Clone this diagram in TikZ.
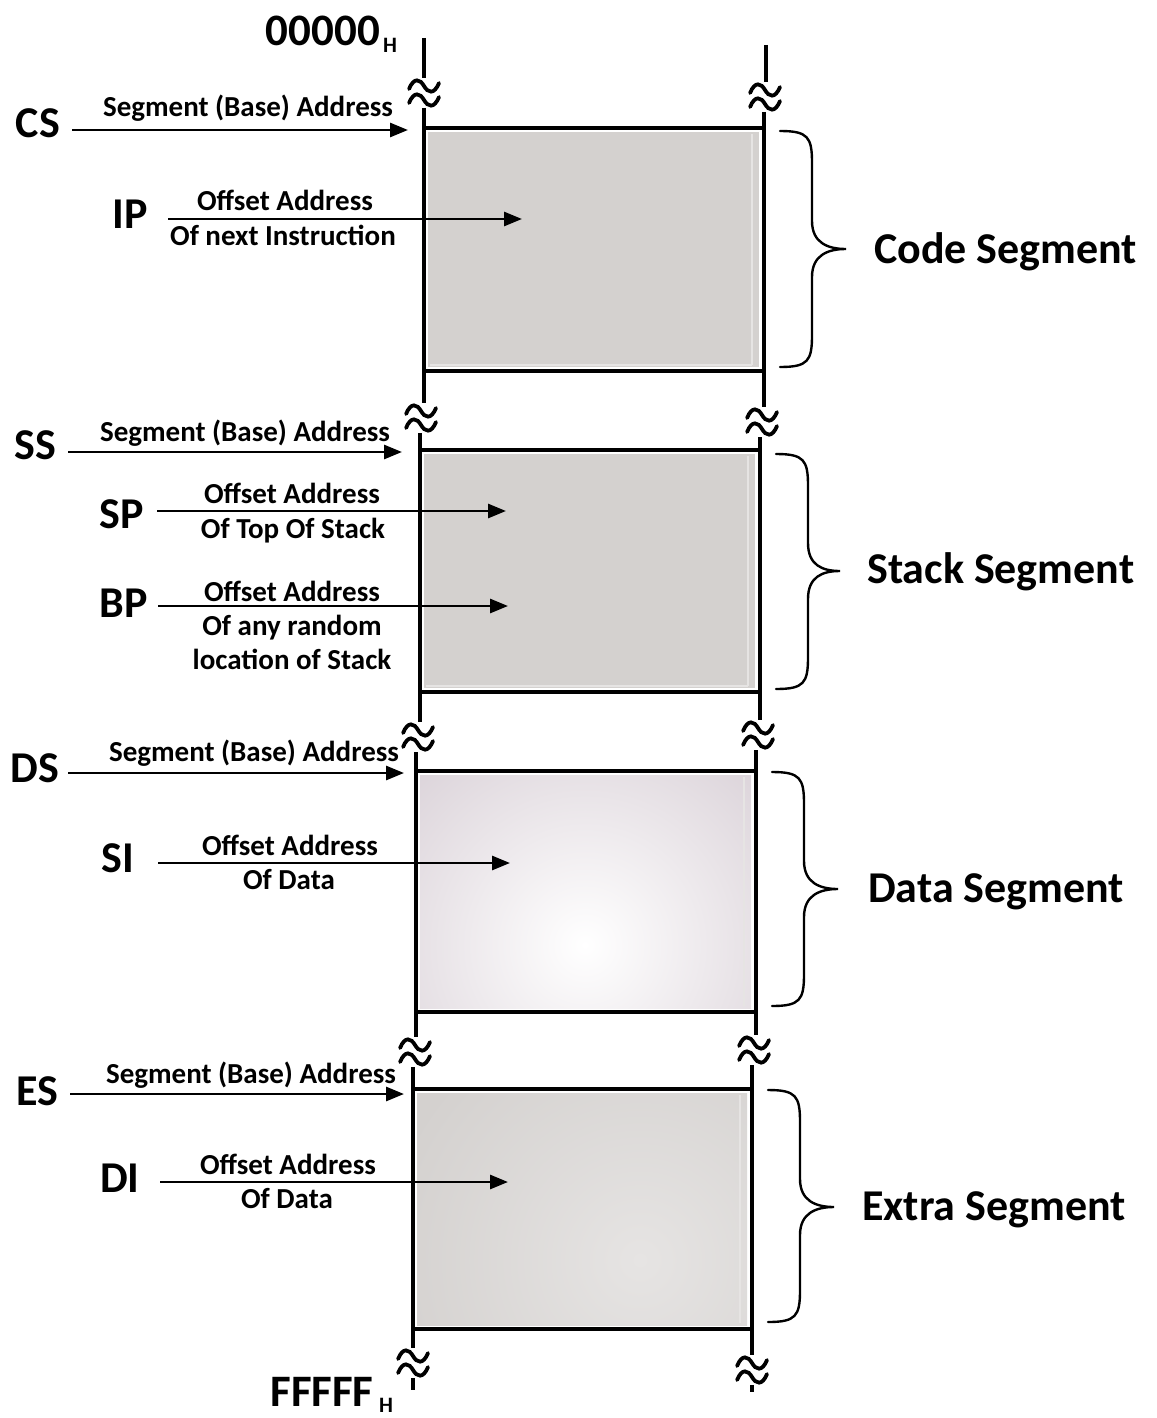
\documentclass[tikz,border=0pt]{standalone}
\usepackage{fontspec}
\setmainfont{Carlito}
\usetikzlibrary{arrows.meta}
\definecolor{boxgray}{RGB}{212,209,207}
\definecolor{boxlight}{RGB}{230,228,227}
\definecolor{datapink}{RGB}{216,207,214}
\tikzset{
  reglbl/.style={font=\bfseries\fontsize{44}{48}\selectfont, inner sep=0pt, anchor=base},
  smalllbl/.style={font=\bfseries\fontsize{29}{34}\selectfont, inner sep=0pt, anchor=base},
  seglbl/.style={font=\bfseries\fontsize{44}{48}\selectfont, inner sep=0pt, anchor=base west},
  addrlbl/.style={font=\bfseries\fontsize{45}{48}\selectfont, inner sep=0pt, anchor=base},
  sublbl/.style={font=\bfseries\fontsize{22}{24}\selectfont, inner sep=0pt, anchor=base},
  ptr/.style={line width=2.8pt, -{Triangle[length=18pt,width=14pt]}},
  memline/.style={line width=4pt},
  wave/.style={line width=3.8pt, line cap=round},
  bracestyle/.style={line width=2.4pt, line cap=round},
}
\newcommand\wavebreak[2]{%
  \draw[wave] ({#1-15},{#2-4}) .. controls ({#1-10},{#2-16}) and ({#1-4},{#2-14}) .. ({#1},{#2-7}) .. controls ({#1+4},{#2}) and ({#1+10},{#2+2}) .. ({#1+15},{#2-10});
  \draw[wave] ({#1-15},{#2+10}) .. controls ({#1-10},{#2-2}) and ({#1-4},{#2}) .. ({#1},{#2+7}) .. controls ({#1+4},{#2+14}) and ({#1+10},{#2+16}) .. ({#1+15},{#2+4});
}
\newcommand\segbrace[5]{% x0, ytop, ybottom, ymid, tipx
  \draw[bracestyle] (#1,#2) .. controls ({#1+28},#2) and ({#1+32},{#2+6}) .. ({#1+32},{#2+32})
    -- ({#1+32},{#4-28}) .. controls ({#1+32},{#4-6}) and ({#5-18},#4) .. (#5,#4)
    .. controls ({#5-18},#4) and ({#1+32},{#4+6}) .. ({#1+32},{#4+28})
    -- ({#1+32},{#3-32}) .. controls ({#1+32},{#3-6}) and ({#1+28},#3) .. (#1,#3);
}
\begin{document}
\begin{tikzpicture}[x=1pt,y=-1pt]
\useasboundingbox (0,0) rectangle (1156,1418);
\fill[white] (0,0) rectangle (1156,1418);

% ---- box fills ----
\fill[boxgray] (428,132) rectangle (759,367);
\draw[boxlight, line width=2pt] (752,134) -- (752,365) (430,365) -- (752,365);
\fill[boxgray] (424,454) rectangle (755,688);
\draw[boxlight, line width=2pt] (748,456) -- (748,686) (426,686) -- (748,686);
\begin{scope}
  \clip (420,775) rectangle (751,1008);
  \shade[inner color=white, outer color=datapink] (585,945) circle (270);
\end{scope}
\draw[boxlight, line width=2pt] (744,777) -- (744,1006);
\begin{scope}
  \clip (417,1093) rectangle (747,1325);
  \fill[boxgray] (417,1093) rectangle (747,1325);
  \shade[inner color=boxlight, outer color=boxgray] (640,1260) circle (260);
\end{scope}
\draw[boxlight, line width=2pt] (740,1095) -- (740,1323);

% ---- horizontal box edges ----
\draw[memline] (424,128) -- (764,128);
\draw[memline] (424,371) -- (764,371);
\draw[memline] (420,450) -- (760,450);
\draw[memline] (420,692) -- (760,692);
\draw[memline] (416,771) -- (756,771);
\draw[memline] (416,1012) -- (756,1012);
\draw[memline] (413,1089) -- (752,1089);
\draw[memline] (413,1329) -- (752,1329);

% ---- left vertical line ----
\draw[memline] (424,38) -- (424,78);
\wavebreak{424}{93}
\draw[memline] (424,108) -- (424,403);
\wavebreak{421}{418}
\draw[memline] (420,433) -- (420,722);
\wavebreak{418}{737}
\draw[memline] (416,752) -- (416,1037);
\wavebreak{415}{1052}
\draw[memline] (413,1067) -- (413,1348);
\wavebreak{413}{1363}
\draw[memline] (413,1378) -- (413,1390);

% ---- right vertical line ----
\draw[memline] (766,45) -- (766,82);
\wavebreak{765}{97}
\draw[memline] (764,112) -- (764,407);
\wavebreak{762}{422}
\draw[memline] (760,437) -- (760,720);
\wavebreak{758}{735}
\draw[memline] (756,750) -- (756,1035);
\wavebreak{754}{1050}
\draw[memline] (752,1065) -- (752,1355);
\wavebreak{752}{1370}
\draw[memline] (752,1385) -- (752,1392);

% ---- addresses ----
\node[addrlbl] (top0) at (323,46) {00000};
\node[sublbl] (topH) at (390,53) {H};
\node[addrlbl] (bot0) at (322,1406) {FFFFF};
\node[sublbl] (botH) at (386,1412) {H};

% ---- Code segment ----
\node[reglbl] (CS) at (38,138) {CS};
\coordinate (CSa) at (72,130); \coordinate (CSb) at (408,130);
\draw[ptr] (CSa) -- (CSb);
\node[smalllbl] (CSt) at (248,117) {Segment (Base) Address};
\node[reglbl] (IP) at (130,228) {IP};
\coordinate (IPa) at (168,219); \coordinate (IPb) at (522,219);
\draw[ptr] (IPa) -- (IPb);
\node[smalllbl] (IPt1) at (285,210) {Offset Address};
\node[smalllbl] (IPt2) at (283,245) {Of next Instruction};

% ---- Stack segment ----
\node[reglbl] (SS) at (35,459) {SS};
\coordinate (SSa) at (68,452); \coordinate (SSb) at (402,452);
\draw[ptr] (SSa) -- (SSb);
\node[smalllbl] (SSt) at (245,441) {Segment (Base) Address};
\node[reglbl] (SP) at (122,528) {SP};
\coordinate (SPa) at (157,511); \coordinate (SPb) at (506,511);
\draw[ptr] (SPa) -- (SPb);
\node[smalllbl] (SPt1) at (292,503) {Offset Address};
\node[smalllbl] (SPt2) at (293,538) {Of Top Of Stack};
\node[reglbl] (BP) at (124,617) {BP};
\coordinate (BPa) at (158,606); \coordinate (BPb) at (508,606);
\draw[ptr] (BPa) -- (BPb);
\node[smalllbl] (BPt1) at (292,601) {Offset Address};
\node[smalllbl] (BPt2) at (292,635) {Of any random};
\node[smalllbl] (BPt3) at (292,669) {location of Stack};

% ---- Data segment ----
\node[reglbl] (DS) at (35,782) {DS};
\coordinate (DSa) at (68,773); \coordinate (DSb) at (404,773);
\draw[ptr] (DSa) -- (DSb);
\node[smalllbl] (DSt) at (254,761) {Segment (Base) Address};
\node[reglbl] (SI) at (118,872) {SI};
\coordinate (SIa) at (158,863); \coordinate (SIb) at (510,863);
\draw[ptr] (SIa) -- (SIb);
\node[smalllbl] (SIt1) at (290,855) {Offset Address};
\node[smalllbl] (SIt2) at (289,889) {Of Data};

% ---- Extra segment ----
\node[reglbl] (ES) at (37,1105) {ES};
\coordinate (ESa) at (70,1094); \coordinate (ESb) at (404,1094);
\draw[ptr] (ESa) -- (ESb);
\node[smalllbl] (ESt) at (251,1083) {Segment (Base) Address};
\node[reglbl] (DI) at (120,1192) {DI};
\coordinate (DIa) at (160,1182); \coordinate (DIb) at (508,1182);
\draw[ptr] (DIa) -- (DIb);
\node[smalllbl] (DIt1) at (288,1174) {Offset Address};
\node[smalllbl] (DIt2) at (287,1208) {Of Data};

% ---- braces and segment names ----
\segbrace{780}{131}{367}{249}{846}
\node[seglbl] (code) at (874,263) {Code Segment};
\segbrace{776}{454}{689}{571}{840}
\node[seglbl] (stack) at (867,583) {Stack Segment};
\segbrace{772}{772}{1006}{889}{838}
\node[seglbl] (data) at (868,902) {Data Segment};
\segbrace{768}{1090}{1322}{1207}{834}
\node[seglbl] (extra) at (862,1220) {Extra Segment};
\end{tikzpicture}
\end{document}
